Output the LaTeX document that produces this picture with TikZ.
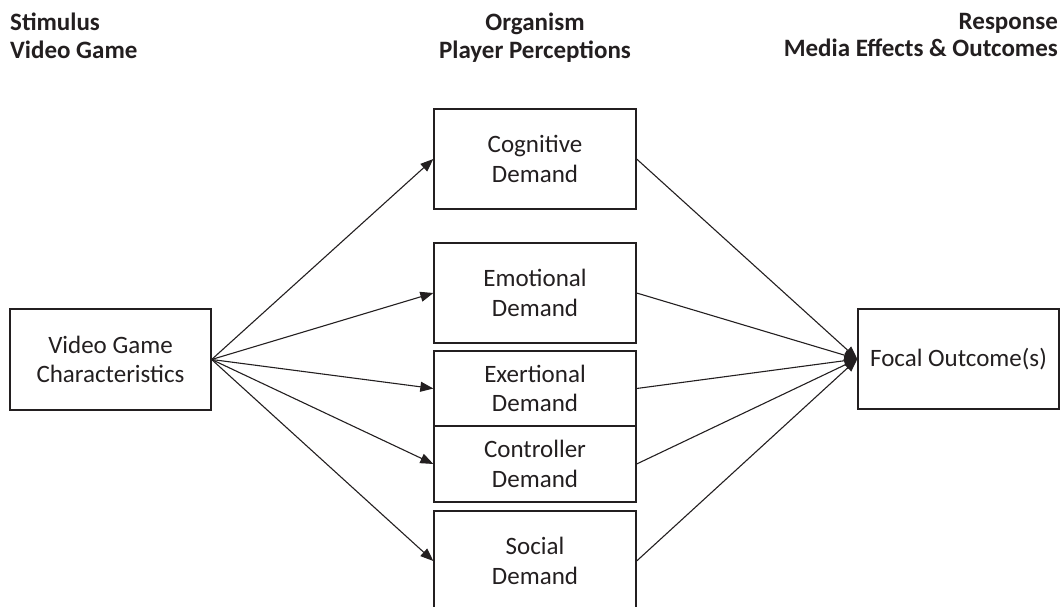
\documentclass[tikz,border=0pt]{standalone}
\usepackage{fontspec}
\setmainfont{Carlito}
\usetikzlibrary{arrows.meta}
\definecolor{ink}{HTML}{231F20}
\begin{document}
\begin{tikzpicture}[x=1pt,y=-1pt,
  box/.style={draw=ink,line width=1.3pt,text=ink,align=center,inner sep=0pt,
    font=\fontsize{25}{29.5}\selectfont},
  hdr/.style={text=ink,inner sep=0pt,font=\bfseries\fontsize{25}{27.5}\selectfont},
  arr/.style={draw=ink,line width=1.1pt,-{Triangle[length=13pt,width=10pt]}}]
\useasboundingbox (0,0) rectangle (1060,607);
\node[hdr,anchor=north west,align=left] (h1) at (10,13) {Stimulus\\Video Game};
\node[hdr,anchor=north,align=center] (h2) at (535,13) {Organism\\Player Perceptions};
\node[hdr,anchor=north east,align=right] (h3) at (1058,13) {Response\\Media Effects \& Outcomes};
\node[box,minimum width=201pt,minimum height=101pt] (vg) at (110.5,359.5) {Video Game\\Characteristics};
\node[box,minimum width=202pt,minimum height=100pt] (cog) at (535,159) {Cognitive\\Demand};
\node[box,minimum width=202pt,minimum height=100pt] (emo) at (535,293) {Emotional\\Demand};
\node[box,minimum width=202pt,minimum height=75pt] (exe) at (535,388.5) {Exertional\\Demand};
\node[box,minimum width=202pt,minimum height=76pt] (con) at (535,464) {Controller\\Demand};
\node[box,minimum width=202pt,minimum height=100pt] (soc) at (535,561) {Social\\Demand};
\node[box,minimum width=201pt,minimum height=100pt] (foc) at (958.5,359) {Focal Outcome(s)};
\foreach \n in {cog,emo,exe,con,soc}{
  \draw[arr] (vg.east) -- (\n.west);
  \draw[arr] (\n.east) -- (foc.west);
}
\end{tikzpicture}
\end{document}
